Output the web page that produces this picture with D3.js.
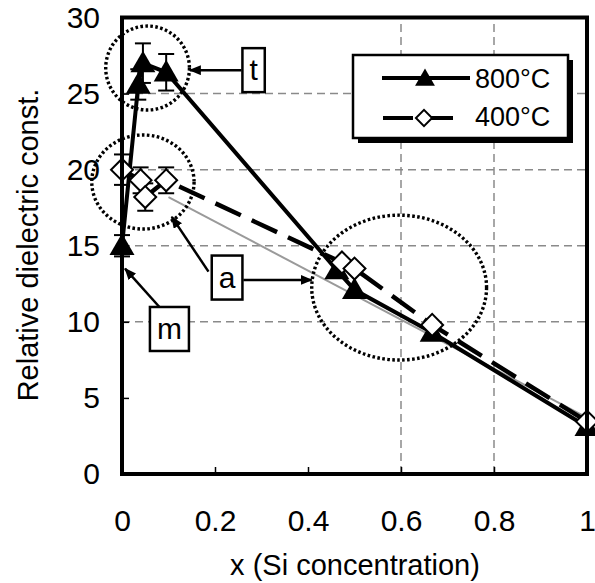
<!DOCTYPE html>
<html lang="en">
<head>
<meta charset="utf-8">
<title>Relative dielectric const. vs Si concentration</title>
<script src="https://cdn.jsdelivr.net/npm/d3@7/dist/d3.min.js"></script>
<style>
  body { margin: 0; background: #fff; }
  svg { display: block; font-family: "Liberation Sans", Arial, sans-serif; }
  .grid { stroke: #8a8a8a; stroke-width: 1.5; stroke-dasharray: 8 5; }
  .tick line { stroke: #000; stroke-width: 1.5; }
  .tick text { font-size: 30px; fill: #000; }
</style>
</head>
<body>
<script>
// 800 C anneal (solid line, filled triangles)
const x800 = [0, 0.035, 0.045, 0.095, 0.462, 0.5, 0.667, 1];
const k800 = [15.0, 25.6, 27.0, 26.4, 13.4, 12.1, 9.3, 3.1];
const e800 = [0.7, 1.0, 1.3, 1.2, 0, 0, 0, 0];

// 400 C anneal (dashed line, open diamonds)
const x400 = [0, 0.04, 0.05, 0.095, 0.473, 0.5, 0.667, 1];
const k400 = [20.0, 19.3, 18.2, 19.3, 13.9, 13.5, 9.8, 3.45];
const e400 = [1.0, 0.85, 0.9, 0.85, 0, 0, 0, 0];

// thin grey reference line
const refX = [0.1, 1];
const refK = [18.2, 3.7];

const xTicks = [0, 0.2, 0.4, 0.6, 0.8, 1];
const xTickLabels = ["0", "0.2", "0.4", "0.6", "0.8", "1"];
const yTicks = [0, 5, 10, 15, 20, 25, 30];
const xGrid = [0.6, 0.8];
const yGrid = [10, 15, 20, 25];

// dotted ellipses (data units)
const ringX = [0.055, 0.045, 0.596];
const ringY = [26.68, 19.19, 12.25];
const ringRx = [0.09, 0.11, 0.188];
const ringRy = [2.76, 3.09, 4.76];

// boxed labels and arrows (data units)
const labelText = ["t", "a", "m"];
const labelX = [0.283, 0.226, 0.102];
const labelY = [26.54, 12.91, 9.53];
const arrowFrom = [[0.257, 26.54], [0.186, 13.3], [0.261, 12.75], [0.080, 10.99]];
const arrowTo   = [[0.146, 26.54], [0.107, 16.9], [0.408, 12.75], [0.0065, 13.5]];

const legendNames = ["800°C", "400°C"];

const W = 595, H = 583;
const svg = d3.select("body").append("svg").attr("width", W).attr("height", H);

const x = d3.scaleLinear().domain([0, 1]).range([122, 587]);
const y = d3.scaleLinear().domain([0, 30]).range([474, 17.5]);

// grid
svg.selectAll(".gy").data(yGrid).enter().append("line")
  .attr("class", "grid")
  .attr("x1", x(0)).attr("x2", x(1))
  .attr("y1", d => y(d)).attr("y2", d => y(d));
svg.selectAll(".gx").data(xGrid).enter().append("line")
  .attr("class", "grid")
  .attr("x1", d => x(d)).attr("x2", d => x(d))
  .attr("y1", y(0)).attr("y2", y(30));

// axes
svg.append("g").attr("transform", `translate(0,${y(0)})`)
  .call(d3.axisBottom(x).tickValues(xTicks).tickFormat((d, i) => xTickLabels[i])
    .tickSizeInner(-7).tickSizeOuter(0).tickPadding(36))
  .call(g => g.select(".domain").remove());
svg.append("g").attr("transform", `translate(${x(0)},0)`)
  .call(d3.axisLeft(y).tickValues(yTicks).tickFormat(d3.format("d"))
    .tickSizeInner(-7).tickSizeOuter(0).tickPadding(22))
  .call(g => g.select(".domain").remove());

// reference line
const line = d3.line().x(d => x(d[0])).y(d => y(d[1]));
svg.append("path")
  .datum(refX.map((v, i) => [v, refK[i]]))
  .attr("d", line).attr("fill", "none")
  .attr("stroke", "#9a9a9a").attr("stroke-width", 2);

const pts400 = x400.map((v, i) => [v, k400[i], e400[i]]);
const pts800 = x800.map((v, i) => [v, k800[i], e800[i]]);

svg.append("path").datum(pts400).attr("d", line)
  .attr("fill", "none").attr("stroke", "#000").attr("stroke-width", 4.5)
  .attr("stroke-dasharray", "28 12");
svg.append("path").datum(pts800).attr("d", line)
  .attr("fill", "none").attr("stroke", "#000").attr("stroke-width", 4);

// error bars
function errorBars(pts) {
  const g = svg.append("g").attr("stroke", "#000").attr("stroke-width", 2);
  pts.filter(d => d[2] > 0).forEach(d => {
    const cx = x(d[0]), t = y(d[1] + d[2]), b = y(d[1] - d[2]);
    g.append("line").attr("x1", cx).attr("x2", cx).attr("y1", t).attr("y2", b);
    g.append("line").attr("x1", cx - 8).attr("x2", cx + 8).attr("y1", t).attr("y2", t);
    g.append("line").attr("x1", cx - 8).attr("x2", cx + 8).attr("y1", b).attr("y2", b);
  });
}
errorBars(pts800);
errorBars(pts400);

// markers
const tri = d3.symbol().type(d3.symbolTriangle).size(270);
const dia = d3.symbol().type(d3.symbolSquare).size(240);
svg.append("g").selectAll("path").data(pts800).enter().append("path")
  .attr("d", tri)
  .attr("transform", d => `translate(${x(d[0])},${y(d[1]) + 2})`)
  .attr("fill", "#000");
svg.append("g").selectAll("path").data(pts400).enter().append("path")
  .attr("d", dia)
  .attr("transform", d => `translate(${x(d[0])},${y(d[1])}) rotate(45)`)
  .attr("fill", "#fff").attr("stroke", "#000").attr("stroke-width", 2);

// frame
svg.append("rect")
  .attr("x", x(0)).attr("y", y(30))
  .attr("width", x(1) - x(0)).attr("height", y(0) - y(30))
  .attr("fill", "none").attr("stroke", "#000").attr("stroke-width", 4);

// dotted rings
svg.selectAll(".ring").data(ringX).enter().append("ellipse")
  .attr("cx", d => x(d))
  .attr("cy", (d, i) => y(ringY[i]))
  .attr("rx", (d, i) => x(ringRx[i]) - x(0))
  .attr("ry", (d, i) => y(0) - y(ringRy[i]))
  .attr("fill", "none").attr("stroke", "#000")
  .attr("stroke-width", 3.4).attr("stroke-dasharray", "2.6 2.4");

// arrows
svg.append("defs").append("marker")
  .attr("id", "head").attr("viewBox", "0 0 12 10")
  .attr("refX", 11).attr("refY", 5)
  .attr("markerWidth", 12).attr("markerHeight", 10)
  .attr("markerUnits", "userSpaceOnUse").attr("orient", "auto")
  .append("path").attr("d", "M0,0L12,5L0,10Z").attr("fill", "#000");
arrowFrom.forEach((f, i) => {
  svg.append("line")
    .attr("x1", x(f[0])).attr("y1", y(f[1]))
    .attr("x2", x(arrowTo[i][0])).attr("y2", y(arrowTo[i][1]))
    .attr("stroke", "#000").attr("stroke-width", 2.5)
    .attr("marker-end", "url(#head)");
});

// boxed labels
labelText.forEach((t, i) => {
  const g = svg.append("g").attr("transform", `translate(${x(labelX[i])},${y(labelY[i])})`);
  const r = g.append("rect").attr("fill", "#fff").attr("stroke", "#000").attr("stroke-width", 2.5);
  const txt = g.append("text").text(t).attr("text-anchor", "middle")
    .attr("y", 10).attr("font-size", 30);
  const w = txt.node().getComputedTextLength() + 14;
  r.attr("x", -w / 2).attr("y", -22).attr("width", w).attr("height", 44);
});

// legend
const lg = svg.append("g");
lg.append("rect").attr("x", 358).attr("y", 60).attr("width", 215).attr("height", 83).attr("fill", "#000");
lg.append("rect").attr("x", 353).attr("y", 55).attr("width", 215).attr("height", 83)
  .attr("fill", "#fff").attr("stroke", "#000").attr("stroke-width", 2.5);
lg.append("line").attr("x1", 382).attr("x2", 470).attr("y1", 78).attr("y2", 78)
  .attr("stroke", "#000").attr("stroke-width", 4);
lg.append("path").attr("d", d3.symbol().type(d3.symbolTriangle).size(170))
  .attr("transform", "translate(425,80)");
lg.append("line").attr("x1", 383).attr("x2", 458).attr("y1", 118).attr("y2", 118)
  .attr("stroke", "#000").attr("stroke-width", 4).attr("stroke-dasharray", "30 10");
lg.append("path").attr("d", d3.symbol().type(d3.symbolSquare).size(130))
  .attr("transform", "translate(424,118) rotate(45)")
  .attr("fill", "#fff").attr("stroke", "#000").attr("stroke-width", 2);
lg.selectAll("text").data(legendNames).enter().append("text")
  .attr("x", 475).attr("y", (d, i) => 88 + i * 38)
  .attr("font-size", 27).text(d => d);

// axis titles
svg.append("text").attr("x", 355).attr("y", 575).attr("text-anchor", "middle")
  .attr("font-size", 29).text("x (Si concentration)");
svg.append("text").attr("transform", "translate(38,245) rotate(-90)")
  .attr("text-anchor", "middle").attr("font-size", 29).text("Relative dielectric const.");
</script>
</body>
</html>
